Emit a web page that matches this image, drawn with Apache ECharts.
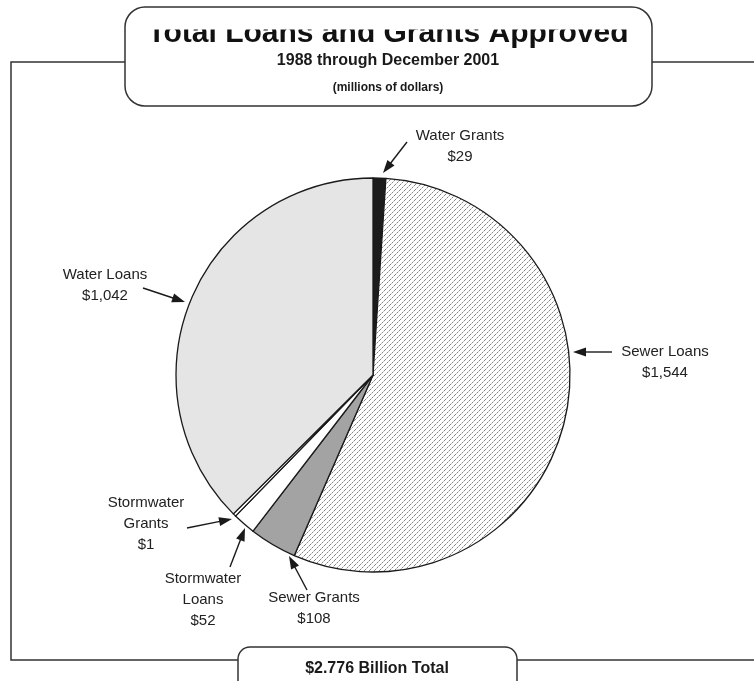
<!DOCTYPE html>
<html>
<head>
<meta charset="utf-8">
<script src="https://cdn.jsdelivr.net/npm/echarts@6/dist/echarts.min.js"></script>
<style>
  html, body { margin: 0; padding: 0; background: #fff; }
  #chart { width: 754px; height: 681px; }
</style>
</head>
<body>
<div id="chart"></div>
<script>
// Funding categories, clockwise from 12 o'clock (millions of dollars)
const categories = ['Water Grants', 'Sewer Loans', 'Sewer Grants', 'Stormwater Loans', 'Stormwater Grants', 'Water Loans'];
const labelNames = ['Water Grants', 'Sewer Loans', 'Sewer Grants', 'Stormwater\nLoans', 'Stormwater\nGrants', 'Water Loans'];
const values = [29, 1544, 108, 52, 1, 1042];
const titleText = 'Total Loans and Grants Approved';
const subtitleText = '1988 through December 2001';
const unitText = '(millions of dollars)';
const totalText = '$2.776 Billion Total';

// Label anchor points (centre of each text block) and arrow start/tip
const labelAnchors = [[460, 146], [665, 362], [314, 608], [203, 600], [146, 524], [105, 285]];
const arrows = [
  [407, 142, 383, 173],
  [612, 352, 573, 352],
  [307, 590, 289, 556],
  [230, 567, 245, 528],
  [187, 528, 232, 519],
  [143, 288, 185, 302]
];

// Dotted diagonal hatch used for the sewer loan wedge
function hatchTile() {
  const n = 5;
  const c = document.createElement('canvas');
  c.width = n; c.height = n;
  const g = c.getContext('2d');
  g.fillStyle = '#ffffff';
  g.fillRect(0, 0, n, n);
  for (let i = 0; i < n; i++) {
    g.fillStyle = (i % 2 === 0) ? '#858585' : '#c4c4c4';
    g.fillRect(i, n - 1 - i, 1, 1);
  }
  return c;
}

const fills = ['#1c1c1c', { image: hatchTile(), repeat: 'repeat' }, '#a3a3a3', '#ffffff', '#ffffff', '#e5e5e5'];

function money(v) {
  return '$' + v.toString().replace(/\B(?=(\d{3})+(?!\d))/g, ',');
}

const lineColor = '#333333';
const graphics = [];

// Outer frame broken by the title box and the total box
graphics.push({ type: 'polyline', z: 5, shape: { points: [[125, 62], [11, 62], [11, 660], [238, 660]] }, style: { stroke: lineColor, lineWidth: 1.5, fill: null } });
graphics.push({ type: 'line', z: 5, shape: { x1: 652, y1: 62, x2: 754, y2: 62 }, style: { stroke: lineColor, lineWidth: 1.5 } });
graphics.push({ type: 'line', z: 5, shape: { x1: 517, y1: 660, x2: 754, y2: 660 }, style: { stroke: lineColor, lineWidth: 1.5 } });

// Title box; the heading's upper part is masked off by the box interior
graphics.push({ type: 'text', z: 10, x: 388, y: 33.5, style: { text: titleText, font: 'bold 30px "Liberation Sans", Arial, sans-serif', fill: '#111111', align: 'center', verticalAlign: 'middle' } });
graphics.push({ type: 'rect', zlevel: 1, z: 11, shape: { x: 139, y: 9, width: 500, height: 20.5 }, style: { fill: '#ffffff' } });
graphics.push({ type: 'rect', zlevel: 1, z: 12, shape: { x: 125, y: 7, width: 527, height: 99, r: 20 }, style: { fill: null, stroke: lineColor, lineWidth: 1.5 } });
graphics.push({ type: 'text', z: 10, x: 388, y: 61, style: { text: subtitleText, font: 'bold 16px "Liberation Sans", Arial, sans-serif', fill: '#1a1a1a', align: 'center', verticalAlign: 'middle' } });
graphics.push({ type: 'text', z: 10, x: 388, y: 88, style: { text: unitText, font: 'bold 12px "Liberation Sans", Arial, sans-serif', fill: '#1a1a1a', align: 'center', verticalAlign: 'middle' } });

// Total box
graphics.push({ type: 'rect', z: 12, shape: { x: 238, y: 647, width: 279, height: 60, r: 12 }, style: { fill: '#ffffff', stroke: lineColor, lineWidth: 1.5 } });
graphics.push({ type: 'text', z: 13, x: 377, y: 669, style: { text: totalText, font: 'bold 16px "Liberation Sans", Arial, sans-serif', fill: '#1a1a1a', align: 'center', verticalAlign: 'middle' } });

// Callout arrows
arrows.forEach(function (a) {
  const x1 = a[0], y1 = a[1], x2 = a[2], y2 = a[3];
  const dx = x2 - x1, dy = y2 - y1;
  const len = Math.sqrt(dx * dx + dy * dy);
  const ux = dx / len, uy = dy / len;
  const hl = 13, hw = 4.5;
  const bx = x2 - ux * hl, by = y2 - uy * hl;
  graphics.push({ type: 'line', z: 20, shape: { x1: x1, y1: y1, x2: bx + ux * 2, y2: by + uy * 2 }, style: { stroke: '#1a1a1a', lineWidth: 1.4 } });
  graphics.push({ type: 'polygon', z: 20, shape: { points: [[x2, y2], [bx - uy * hw, by + ux * hw], [bx + uy * hw, by - ux * hw]] }, style: { fill: '#1a1a1a' } });
});

const chart = echarts.init(document.getElementById('chart'), null, { renderer: 'canvas' });
chart.setOption({
  animation: false,
  backgroundColor: '#ffffff',
  graphic: graphics,
  series: [{
    type: 'pie',
    center: [373, 375],
    radius: 197,
    startAngle: 90,
    clockwise: true,
    minAngle: 0.9,
    avoidLabelOverlap: false,
    silent: true,
    itemStyle: { borderColor: '#1a1a1a', borderWidth: 1.3 },
    label: {
      show: true,
      position: 'outside',
      formatter: function (p) { return labelNames[p.dataIndex] + '\n' + money(p.value); },
      fontFamily: '"Liberation Sans", Arial, sans-serif',
      fontSize: 15,
      lineHeight: 21,
      color: '#222222',
      align: 'center'
    },
    labelLine: { show: false },
    labelLayout: function (p) {
      const c = labelAnchors[p.dataIndex];
      return { x: c[0], y: c[1], align: 'center', verticalAlign: 'middle' };
    },
    data: categories.map(function (name, i) {
      return { name: name, value: values[i], itemStyle: { color: fills[i] } };
    })
  }]
});
</script>
</body>
</html>
